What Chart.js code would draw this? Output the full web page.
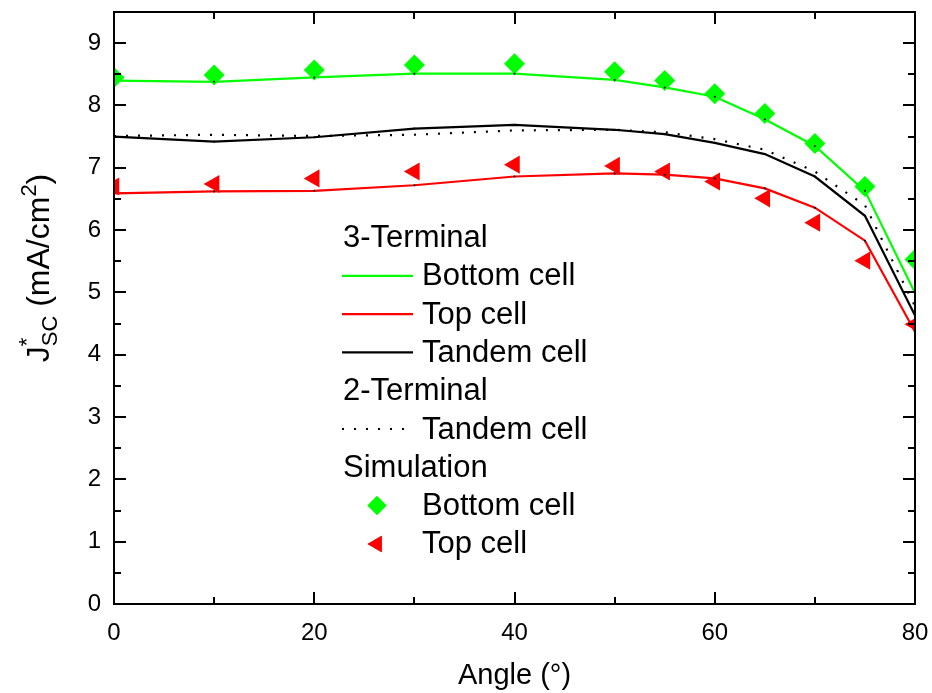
<!DOCTYPE html>
<html>
<head>
<meta charset="utf-8">
<script src="https://cdn.jsdelivr.net/npm/chart.js@4.4.0/dist/chart.umd.min.js"></script>
<style>
  html, body { margin: 0; padding: 0; background: #fff; }
  #wrap { width: 932px; height: 693px; }
</style>
</head>
<body>
<div id="wrap"><canvas id="jscChart" width="932" height="693"></canvas></div>
<script>
// Angle of incidence (deg)
const angles = [0, 10, 20, 30, 40, 50, 55, 60, 65, 70, 75, 80];

// 3-terminal measured J*sc (mA/cm2)
const bottom3T = [8.40, 8.38, 8.45, 8.51, 8.51, 8.41, 8.29, 8.14, 7.78, 7.35, 6.63, 4.99];
const top3T    = [6.59, 6.62, 6.63, 6.72, 6.86, 6.91, 6.89, 6.83, 6.67, 6.36, 5.83, 4.37];
const tandem3T = [7.50, 7.42, 7.49, 7.63, 7.69, 7.61, 7.54, 7.40, 7.22, 6.86, 6.23, 4.63];

// 2-terminal tandem
const tandem2T = [7.51, 7.53, 7.51, 7.53, 7.60, 7.61, 7.57, 7.46, 7.29, 6.94, 6.40, 4.78];

// simulation
const simBottom = [8.45, 8.49, 8.57, 8.65, 8.67, 8.54, 8.40, 8.19, 7.87, 7.39, 6.70, 5.53];
const simTop    = [6.70, 6.74, 6.83, 6.94, 7.05, 7.03, 6.94, 6.78, 6.51, 6.12, 5.51, 4.49];

// axis ticks
const xMajorTicks = [0, 20, 40, 60, 80];
const xMinorTicks = [10, 30, 50, 70];
const yMajorTicks = [0, 1, 2, 3, 4, 5, 6, 7, 8, 9];
const yMinorTicks = [0.5, 1.5, 2.5, 3.5, 4.5, 5.5, 6.5, 7.5, 8.5];

const GREEN = '#00ff00';
const RED = '#ff0000';
const FONT = '"Liberation Sans", Arial, sans-serif';
const MARKER_R = 10.5;

function toPoints(values) {
    return angles.map((a, i) => ({ x: a, y: values[i] }));
}

function lineSet(label, values, color, dash) {
    return {
        label: label,
        data: toPoints(values),
        borderColor: color,
        borderWidth: 2.2,
        borderDash: dash || [],
        tension: 0,
        fill: false,
        pointRadius: dash ? 0 : 1,
        pointBackgroundColor: '#000',
        pointBorderWidth: 0
    };
}

function markerSet(label, values, color, style, rotation) {
    return {
        label: label,
        data: toPoints(values),
        showLine: false,
        pointStyle: style,
        rotation: rotation,
        pointRadius: MARKER_R,
        pointBackgroundColor: color,
        pointBorderColor: color,
        pointBorderWidth: 0,
        clip: 0
    };
}

/**
 * Frame, inward ticks, labels, titles and the grouped legend
 */
const decorPlugin = {
    id: 'decor',
    afterDatasetsDraw(chart) {
        const ctx = chart.ctx;
        const area = chart.chartArea;
        const xs = chart.scales.x;
        const ys = chart.scales.y;

        ctx.save();
        ctx.strokeStyle = '#000';
        ctx.lineWidth = 2;
        ctx.strokeRect(area.left, area.top, area.right - area.left, area.bottom - area.top);

        // ticks, mirrored on the top and right edges
        ctx.beginPath();
        const tick = (vals, len) => {
            vals.forEach(v => {
                const px = Math.round(xs.getPixelForValue(v));
                ctx.moveTo(px, area.bottom); ctx.lineTo(px, area.bottom - len);
                ctx.moveTo(px, area.top); ctx.lineTo(px, area.top + len);
            });
        };
        const ytick = (vals, len) => {
            vals.forEach(v => {
                const py = Math.round(ys.getPixelForValue(v));
                ctx.moveTo(area.left, py); ctx.lineTo(area.left + len, py);
                ctx.moveTo(area.right, py); ctx.lineTo(area.right - len, py);
            });
        };
        tick(xMajorTicks, 12);
        tick(xMinorTicks, 7);
        ytick(yMajorTicks, 12);
        ytick(yMinorTicks, 7);
        ctx.stroke();

        // tick labels
        ctx.fillStyle = '#000';
        ctx.font = '24px ' + FONT;
        ctx.textAlign = 'center';
        ctx.textBaseline = 'middle';
        xMajorTicks.forEach(v => {
            ctx.fillText(String(v), xs.getPixelForValue(v), area.bottom + 29);
        });
        ctx.textAlign = 'right';
        yMajorTicks.forEach(v => {
            ctx.fillText(String(v), area.left - 13, ys.getPixelForValue(v));
        });

        // x title
        ctx.font = '29px ' + FONT;
        ctx.textAlign = 'center';
        ctx.textBaseline = 'alphabetic';
        ctx.fillText('Angle (\u00b0)', (area.left + area.right) / 2, 684);

        // y title, rotated, with super/subscripts
        ctx.save();
        ctx.translate(49, 268);
        ctx.rotate(-Math.PI / 2);
        const big = '32px ' + FONT;
        const small = '22px ' + FONT;
        const parts = [
            { t: 'J', f: big, dy: 0 },
            { t: '*', f: small, dy: -15, stack: true },
            { t: 'SC', f: small, dy: 8 },
            { t: ' (mA/cm', f: big, dy: 0 },
            { t: '2', f: small, dy: -13 },
            { t: ')', f: big, dy: 0 }
        ];
        let total = 0;
        parts.forEach(p => {
            ctx.font = p.f;
            p.w = ctx.measureText(p.t).width;
            if (!p.stack) total += p.w;
        });
        let cx = -total / 2;
        ctx.textAlign = 'left';
        parts.forEach(p => {
            ctx.font = p.f;
            ctx.fillText(p.t, cx, p.dy);
            if (!p.stack) cx += p.w;
        });
        ctx.restore();

        // legend
        const rowH = 38.3;
        const y0 = 238.5;
        const hx = 343, lx0 = 342, lx1 = 413, tx = 422, mx = 377;
        ctx.font = '31px ' + FONT;
        ctx.textBaseline = 'middle';
        ctx.textAlign = 'left';
        const ds = chart.data.datasets;
        const rows = [
            { head: '3-Terminal' },
            { ds: 0, text: 'Bottom cell' },
            { ds: 1, text: 'Top cell' },
            { ds: 2, text: 'Tandem cell' },
            { head: '2-Terminal' },
            { ds: 3, text: 'Tandem cell' },
            { head: 'Simulation' },
            { ds: 4, text: 'Bottom cell' },
            { ds: 5, text: 'Top cell' }
        ];
        rows.forEach((r, i) => {
            const y = y0 + i * rowH;
            if (r.head) {
                ctx.fillStyle = '#000';
                ctx.fillText(r.head, hx, y);
                return;
            }
            const d = ds[r.ds];
            const ly = y - 1;
            if (d.showLine === false) {
                ctx.fillStyle = d.pointBackgroundColor;
                Chart.helpers.drawPoint(ctx, {
                    pointStyle: d.pointStyle,
                    rotation: d.rotation || 0,
                    radius: MARKER_R - 1,
                    borderWidth: 0
                }, mx, ly);
                ctx.fill();
            } else {
                ctx.strokeStyle = d.borderColor;
                ctx.lineWidth = d.borderWidth;
                ctx.setLineDash(d.borderDash);
                ctx.beginPath();
                ctx.moveTo(lx0, ly);
                ctx.lineTo(lx1, ly);
                ctx.stroke();
                ctx.setLineDash([]);
            }
            ctx.fillStyle = '#000';
            ctx.fillText(r.text, tx, y);
        });
        ctx.restore();
    }
};

document.addEventListener('DOMContentLoaded', function() {
    const ctx = document.getElementById('jscChart');
    new Chart(ctx, {
        type: 'line',
        data: {
            datasets: [
                lineSet('3-Terminal Bottom cell', bottom3T, GREEN),
                lineSet('3-Terminal Top cell', top3T, RED),
                lineSet('3-Terminal Tandem cell', tandem3T, '#000'),
                lineSet('2-Terminal Tandem cell', tandem2T, '#000', [2, 10]),
                markerSet('Simulation Bottom cell', simBottom, GREEN, 'rectRot', 0),
                markerSet('Simulation Top cell', simTop, RED, 'triangle', -90)
            ]
        },
        options: {
            responsive: false,
            animation: false,
            layout: { padding: { left: 114, right: 17, top: 12, bottom: 89 } },
            plugins: {
                legend: { display: false },
                tooltip: { enabled: false }
            },
            scales: {
                x: { type: 'linear', min: 0, max: 80, display: false },
                y: { type: 'linear', min: 0, max: 9.5, display: false }
            }
        },
        plugins: [decorPlugin]
    });
});
</script>
</body>
</html>
